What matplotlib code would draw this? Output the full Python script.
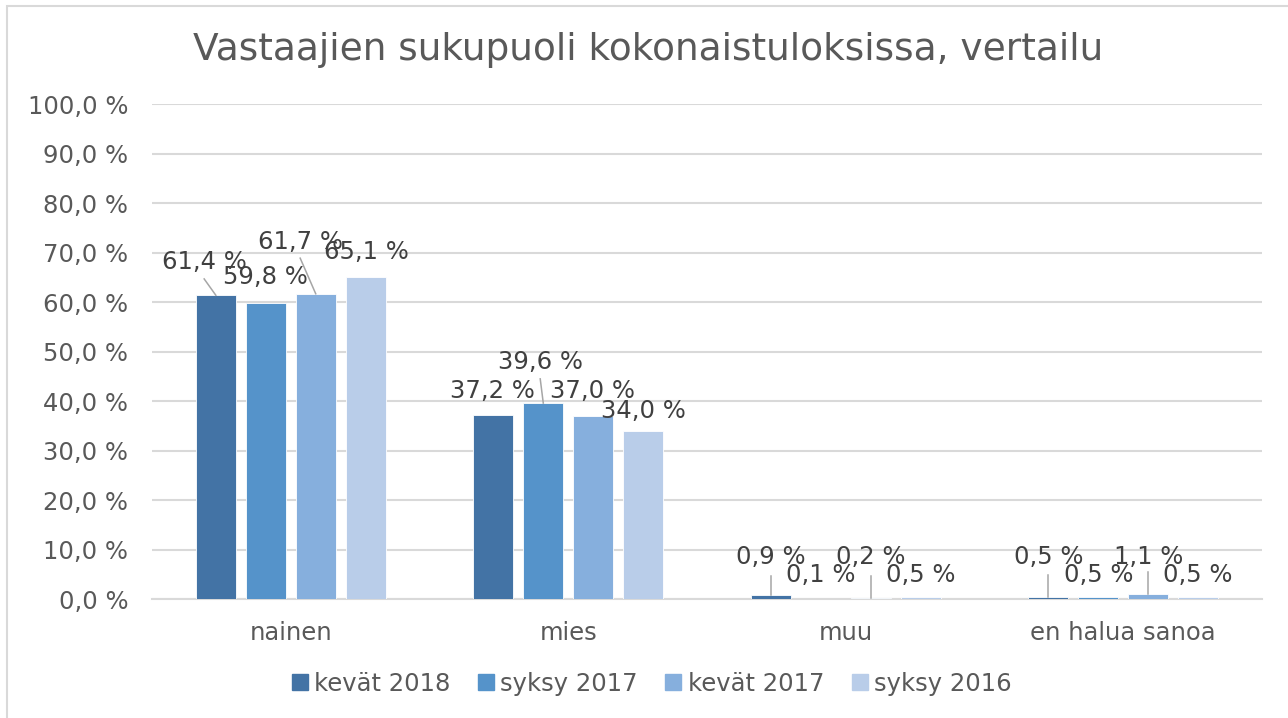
import matplotlib
matplotlib.use("Agg")
import matplotlib.pyplot as plt
from matplotlib.patches import Rectangle
from matplotlib.lines import Line2D
import numpy as np

plt.rcParams["font.family"] = ["DejaVu Sans"]

categories = ["nainen", "mies", "muu", "en halua sanoa"]
series_names = ["kevät 2018", "syksy 2017", "kevät 2017", "syksy 2016"]
kevat_2018 = [61.4, 37.2, 0.9, 0.5]
syksy_2017 = [59.8, 39.6, 0.1, 0.5]
kevat_2017 = [61.7, 37.0, 0.2, 1.1]
syksy_2016 = [65.1, 34.0, 0.5, 0.5]
series_values = [kevat_2018, syksy_2017, kevat_2017, syksy_2016]
yticks = [0, 10, 20, 30, 40, 50, 60, 70, 80, 90, 100]
title = "Vastaajien sukupuoli kokonaistuloksissa, vertailu"

colors = ["#4373A5", "#5593CA", "#86AFDD", "#B9CDE9"]

# label anchor positions (x offset from category centre, y in data units)
label_pos = [
    [(-0.312, 68.1), (-0.092, 65.1), (0.034, 72.2), (0.272, 70.1)],
    [(-0.274, 42.0), (-0.101, 47.9), (0.086, 42.0), (0.270, 38.0)],
    [(-0.27, 8.5), (-0.09, 4.85), (0.09, 8.5), (0.27, 4.85)],
    [(-0.27, 8.5), (-0.09, 4.85), (0.09, 8.5), (0.27, 4.85)],
]
# leader lines: (category, series, end dx, end y)
leaders = [
    (0, 0, -0.312, 64.7),
    (0, 2, 0.034, 68.9),
    (1, 1, -0.101, 44.5),
    (2, 0, -0.27, 4.65),
    (2, 2, 0.09, 4.65),
    (3, 0, -0.27, 4.95),
    (3, 2, 0.09, 5.5),
]

W, H = 1288, 718
fs = 17.5
fig = plt.figure(figsize=(W / 100, H / 100), dpi=100)
fig.patch.set_facecolor("white")

# outer chart border
fig.add_artist(Rectangle((7 / W, -0.1), 1.2, (H - 6) / H + 0.1, transform=fig.transFigure,
                         fill=False, edgecolor="#D9D9D9", linewidth=1.5))

ax = fig.add_axes([152 / W, 1 - 599 / H, (1262 - 152) / W, (599 - 104.3) / H])
ax.set_xlim(-0.5, len(categories) - 0.5)
ax.set_ylim(0, 100)

bw = 0.144
offsets = [-0.27, -0.09, 0.09, 0.27]
x = np.arange(len(categories))
for s, (vals, col, off) in enumerate(zip(series_values, colors, offsets)):
    ax.bar(x + off, vals, width=bw, color=col, edgecolor="white", linewidth=0.6,
           label=series_names[s], zorder=3)

# leader lines
for c, s, dx, ey in leaders:
    ax.plot([c + offsets[s], c + dx], [series_values[s][c], ey],
            color="#A6A6A6", linewidth=1.1, zorder=4)

# data labels
for c in range(len(categories)):
    for s in range(len(series_names)):
        v = series_values[s][c]
        dx, ly = label_pos[c][s]
        txt = f"{v:.1f} %".replace(".", ",")
        ax.text(c + dx, ly, txt, ha="center", va="center", fontsize=fs,
                color="#404040", zorder=5)

ax.set_yticks(yticks)
ax.set_yticklabels([f"{t:.1f} %".replace(".", ",") for t in yticks])
ax.set_xticks(x)
ax.set_xticklabels(categories)
ax.tick_params(axis="both", length=0, labelsize=fs, colors="#595959")
ax.tick_params(axis="y", pad=17)
ax.tick_params(axis="x", pad=16)
ax.yaxis.grid(True, color="#D9D9D9", linewidth=1.5, zorder=0)
ax.set_axisbelow(True)
for sp in ["top", "right", "left"]:
    ax.spines[sp].set_visible(False)
ax.spines["bottom"].set_color("#D9D9D9")
ax.spines["bottom"].set_linewidth(1.5)

# title
t = fig.text(648 / W, 1 - 50 / H, title, ha="center", va="center", fontsize=24,
             color="#595959")
fig.canvas.draw()
bb = t.get_window_extent()
t.set_fontsize(24 * 913 / bb.width)

handles = [Line2D([0], [0], marker="s", linestyle="none", markersize=11,
                  markerfacecolor=c, markeredgecolor=c) for c in colors]
fig.legend(handles, series_names, loc="center", bbox_to_anchor=(652 / W, 1 - 684 / H),
           ncol=4, frameon=False, fontsize=fs, handlelength=0.6, handletextpad=0.3,
           columnspacing=1.15, labelcolor="#595959")

fig.savefig("out.png", dpi=100, facecolor="white")
